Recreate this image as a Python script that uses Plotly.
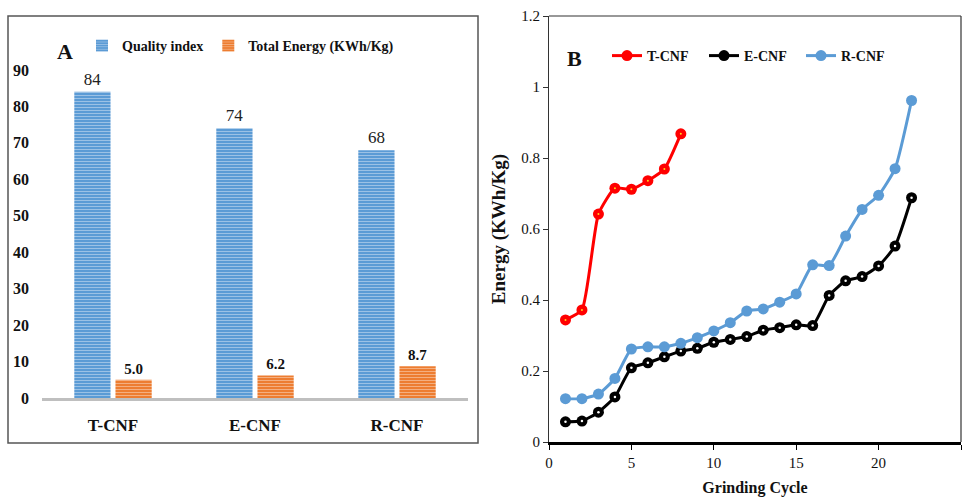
import plotly.graph_objects as go

W, H = 966, 497

# ---- Panel A data ----
samples = ["T-CNF", "E-CNF", "R-CNF"]
quality_index = [84, 74, 68]
total_energy = [5.0, 6.2, 8.7]

# ---- Panel B data ----
cycles_t = [1, 2, 3, 4, 5, 6, 7, 8]
energy_t = [0.344, 0.372, 0.642, 0.715, 0.712, 0.736, 0.769, 0.868]
cycles_er = list(range(1, 23))
energy_e = [0.057, 0.059, 0.084, 0.127, 0.209, 0.223, 0.240, 0.256, 0.264, 0.281,
            0.289, 0.297, 0.315, 0.322, 0.330, 0.328, 0.413, 0.454, 0.466, 0.496,
            0.552, 0.688]
energy_r = [0.122, 0.122, 0.135, 0.179, 0.262, 0.268, 0.268, 0.278, 0.294, 0.313,
            0.336, 0.369, 0.375, 0.394, 0.417, 0.499, 0.497, 0.580, 0.655, 0.695,
            0.770, 0.962]

SERIF = "Liberation Serif"


def px(x):
    return x / W


def py(y):
    return 1 - y / H


fig = go.Figure()

# Panel A bars
fig.add_trace(go.Bar(
    x=samples, y=quality_index, name="Quality index",
    marker=dict(color="#5b9bd5", line=dict(width=0),
                pattern=dict(shape="-", bgcolor="#5b9bd5", fgcolor="#dbe7f6",
                             size=3, solidity=0.35)),
    text=[str(v) for v in quality_index], textposition="outside",
    textfont=dict(family=SERIF, size=17, color="#222"),
    cliponaxis=False, xaxis="x", yaxis="y", legend="legend",
))
fig.add_trace(go.Bar(
    x=samples, y=total_energy, name="Total Energy (KWh/Kg)",
    marker=dict(color="#ed7d31", line=dict(width=0),
                pattern=dict(shape="-", bgcolor="#ed7d31", fgcolor="#fbe2d0",
                             size=3, solidity=0.35)),
    text=[f"{v:.1f}" for v in total_energy], textposition="outside",
    textfont=dict(family=SERIF, size=15, color="#111", weight="bold"),
    cliponaxis=False, xaxis="x", yaxis="y", legend="legend",
))

# Panel B lines
series = [
    ("T-CNF", cycles_t, energy_t, "#ff0000", "#ffd21f", 2),
    ("E-CNF", cycles_er, energy_e, "#000000", "#ffffff", 2.5),
    ("R-CNF", cycles_er, energy_r, "#5b9bd5", None, 0),
]
for name, xs, ys, col, dotcol, dotsize in series:
    fig.add_trace(go.Scatter(
        x=xs, y=ys, name=name, mode="lines+markers",
        line=dict(color=col, width=3, shape="spline", smoothing=0.5),
        marker=dict(color=col, size=11, symbol="circle"),
        xaxis="x2", yaxis="y2", legend="legend2", cliponaxis=False,
    ))
    if dotcol:
        fig.add_trace(go.Scatter(
            x=xs, y=ys, mode="markers", showlegend=False, hoverinfo="skip",
            marker=dict(color=dotcol, size=dotsize, symbol="circle"),
            xaxis="x2", yaxis="y2", cliponaxis=False,
        ))

fig.update_layout(
    width=W, height=H,
    margin=dict(l=0, r=0, t=0, b=0, autoexpand=False),
    paper_bgcolor="white", plot_bgcolor="white",
    barmode="group", bargap=0.42, bargroupgap=0.12,
    font=dict(family=SERIF, color="#111"),
    xaxis=dict(domain=[px(42), px(468)], range=[-0.5, 2.5], anchor="y",
               automargin=False,
               showline=True, linecolor="#bfbfbf", linewidth=3,
               showgrid=False, ticks="", ticklabelstandoff=10,
               tickfont=dict(family=SERIF, size=17, color="#111", weight="bold")),
    yaxis=dict(domain=[py(398), py(70)], range=[0, 90], anchor="x",
               automargin=False,
               showline=False, showgrid=False, zeroline=False,
               tickvals=list(range(0, 91, 10)), ticks="", ticklabelstandoff=12,
               tickfont=dict(family=SERIF, size=16, color="#111", weight="bold")),
    xaxis2=dict(domain=[px(549), px(961)], range=[0, 25], anchor="y2",
                automargin=False,
                showline=True, linecolor="#000", linewidth=2.5,
                showgrid=False, zeroline=False, tickvals=[0, 5, 10, 15, 20, 25],
                ticks="outside", ticklen=5, tickcolor="#000",
                tickfont=dict(family=SERIF, size=15, color="#111"),
                title=dict(text="Grinding Cycle", standoff=14,
                           font=dict(family=SERIF, size=16, color="#111", weight="bold"))),
    yaxis2=dict(domain=[py(442), py(16)], range=[0, 1.2], anchor="x2",
                automargin=False,
                showline=True, linecolor="#333", linewidth=1.2,
                showgrid=False, zeroline=False,
                tickvals=[0, 0.2, 0.4, 0.6, 0.8, 1.0, 1.2],
                ticktext=["0", "0.2", "0.4", "0.6", "0.8", "1", "1.2"],
                ticks="outside", ticklen=5, tickcolor="#333",
                tickfont=dict(family=SERIF, size=15, color="#111"),
                title=dict(text="Energy (KWh/Kg)", standoff=10,
                           font=dict(family=SERIF, size=19, color="#111", weight="bold"))),
    legend=dict(orientation="h", x=px(82), y=py(30), xanchor="left", yanchor="top",
                bgcolor="rgba(0,0,0,0)", itemwidth=30, traceorder="normal",
                font=dict(family=SERIF, size=14, color="#111", weight="bold")),
    legend2=dict(orientation="h", x=px(607), y=py(40), xanchor="left", yanchor="top",
                 bgcolor="rgba(0,0,0,0)", itemwidth=30, traceorder="normal",
                 entrywidth=52, entrywidthmode="pixels",
                 font=dict(family=SERIF, size=14, color="#111", weight="bold")),
    shapes=[
        dict(type="rect", xref="paper", yref="paper",
             x0=px(8), x1=px(478), y0=py(443), y1=py(16),
             line=dict(color="#555", width=1.5), fillcolor="rgba(0,0,0,0)", layer="below"),
        dict(type="line", xref="paper", yref="paper",
             x0=px(549), x1=px(961), y0=py(16), y1=py(16),
             line=dict(color="#333", width=1.2)),
        dict(type="line", xref="paper", yref="paper",
             x0=px(961), x1=px(961), y0=py(442), y1=py(16),
             line=dict(color="#333", width=1.2)),
    ],
    annotations=[
        dict(text="A", xref="paper", yref="paper", x=px(55), y=py(37),
             showarrow=False, font=dict(family=SERIF, size=22, color="#111", weight="bold")),
        dict(text="B", xref="paper", yref="paper", x=px(574), y=py(44),
             showarrow=False, font=dict(family=SERIF, size=22, color="#111", weight="bold")),
    ],
)

fig.write_html("out.html")
